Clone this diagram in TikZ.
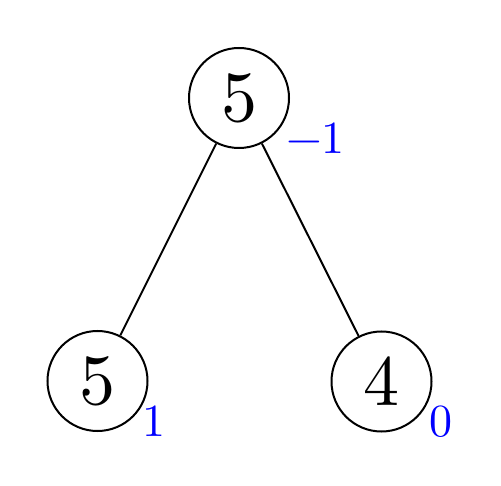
\documentclass[tikz,border=0pt]{standalone}
\usepackage{fontspec}
\setmainfont{lmroman10-regular.otf}
\begin{document}
\begin{tikzpicture}[x=1pt,y=-1pt,
  treenode/.style={circle,draw,line width=2pt,minimum size=100pt,inner sep=0pt,
    font=\fontsize{72}{72}\selectfont},
  edge/.style={line width=2pt},
  bal/.style={text=blue,inner sep=0pt,anchor=base west,font=\fontsize{46}{46}\selectfont}]
\useasboundingbox (0,0) rectangle (501,486);
\node[treenode] (r) at (239,98) {5};
\node[treenode] (l) at (97.5,381) {5};
\node[treenode] (rr) at (381.5,381.5) {4};
\draw[edge] (r) -- (l);
\draw[edge] (r) -- (rr);
\node[bal] (br) at (286,154) {−1};
\node[bal] (bl) at (142,436) {1};
\node[bal] (brr) at (429,436) {0};
\end{tikzpicture}
\end{document}
